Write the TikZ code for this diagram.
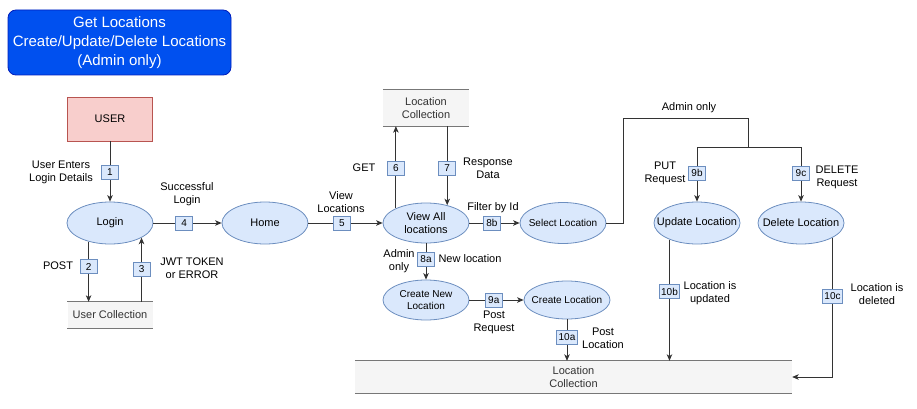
\documentclass[tikz,border=0pt]{standalone}
\usepackage{fontspec}
\setmainfont{Liberation Sans}
\usetikzlibrary{shapes.geometric,arrows.meta,calc}
\definecolor{titlefill}{HTML}{0050EF}
\definecolor{titledraw}{HTML}{001DBC}
\definecolor{userfill}{HTML}{F8CECC}
\definecolor{userdraw}{HTML}{B85450}
\definecolor{procfill}{HTML}{DAE8FC}
\definecolor{procdraw}{HTML}{6C8EBF}
\definecolor{storefill}{HTML}{F5F5F5}
\definecolor{storeline}{HTML}{777777}
\definecolor{storetext}{HTML}{333333}
\definecolor{edgecol}{HTML}{333333}
\begin{document}
\begin{tikzpicture}[x=1pt,y=-1pt,
  every node/.style={font=\fontsize{11}{13}\selectfont},
  titlebox/.style={rectangle, rounded corners=8pt, fill=titlefill, draw=titledraw, line width=0.8pt,
    text=white, align=center, minimum width=223pt, minimum height=65pt, inner sep=0pt,
    font=\fontsize{15}{19}\selectfont},
  userbox/.style={rectangle, fill=userfill, draw=userdraw, line width=0.8pt,
    minimum width=85pt, minimum height=44pt, inner sep=0pt},
  proc/.style={ellipse, fill=procfill, draw=procdraw, line width=0.8pt,
    minimum width=86pt, minimum height=42pt, inner sep=0pt},
  intext/.style={align=center, inner sep=0pt},
  smalltext/.style={intext, font=\fontsize{10}{12}\selectfont},
  store/.style={rectangle, fill=storefill, draw=none, text=storetext, align=center, inner sep=0pt},
  sline/.style={draw=storeline, line width=1.3pt},
  edge/.style={draw=edgecol, line width=0.8pt, -{Stealth[length=6.5pt,width=5.5pt,inset=1.8pt]}},
  plain/.style={draw=edgecol, line width=0.8pt},
  numbox/.style={rectangle, fill=procfill, draw=procdraw, line width=0.8pt,
    minimum width=17pt, minimum height=14pt, inner xsep=2pt, inner ysep=0pt,
    font=\fontsize{10}{12}\selectfont},
  lbl/.style={align=center, inner sep=0pt}
]
\useasboundingbox (0,0) rectangle (917,409);

% title
\node[titlebox] (title) at (119.5,42.5) {Get Locations\\Create/Update/Delete Locations\\(Admin only)};

% processes and entities
\node[userbox] (user) at (110,119) {USER};
\node[proc, label={[intext]center:Login}] (login) at (110,223) {};
\node[proc, label={[intext]center:Home}] (home) at (265,223) {};
\node[proc, minimum height=40pt, label={[intext]center:View All\\locations}] (viewall) at (426,223) {};
\node[proc, minimum height=41pt, label={[smalltext]center:Select Location}] (select) at (563,223) {};
\node[proc, minimum height=40pt, label={[smalltext]center:Create New\\Location}] (createnew) at (426,300) {};
\node[proc, minimum height=38pt, label={[smalltext]center:Create Location}] (createloc) at (567,300) {};
\node[proc, label={[intext]center:Update Location}] (update) at (697,223) {};
\node[proc, label={[intext]center:Delete Location}] (delete) at (801,223) {};

% stores
\node[store, minimum width=85pt, minimum height=26pt] (ucoll) at (110,315) {User Collection};
\node[store, minimum width=86pt, minimum height=36pt] (lctop) at (426,108) {Location\\Collection};
\node[store, minimum width=437pt, minimum height=32pt] (lcbot) at (573.5,377) {Location\\Collection};
\draw[sline] (ucoll.north west) -- (ucoll.north east);
\draw[sline] (ucoll.south west) -- (ucoll.south east);
\draw[sline] (lctop.north west) -- (lctop.north east);
\draw[sline] (lctop.south west) -- (lctop.south east);
\draw[sline] (lcbot.north west) -- (lcbot.north east);
\draw[sline] (lcbot.south west) -- (lcbot.south east);

% routing coordinates
\coordinate (bend) at (623,118);
\coordinate (fork) at (748,147);

% connectors
\draw[edge] (user.south) -- node[numbox, pos=0.51] (b1) {1} (login.north);
\draw[edge] (login) -- node[numbox, pos=0.45] (b4) {4} (home);
\draw[edge] (login.221) -- node[numbox, pos=0.42] (b2) {2} (login.221 |- ucoll.north);
\draw[edge] (login.-25 |- ucoll.north) -- node[numbox, pos=0.51] (b3) {3} (login.-25);
\draw[edge] (home) -- node[numbox, pos=0.45] (b5) {5} (viewall);
\draw[edge] (viewall.154) -- node[numbox, pos=0.49] (b6) {6} (viewall.154 |- lctop.south);
\draw[edge] (viewall.40 |- lctop.south) -- node[numbox, pos=0.53] (b7) {7} (viewall.40);
\draw[edge] (viewall) -- node[numbox, pos=0.45] (b8b) {8b} (select);
\draw[edge] (viewall) -- node[numbox, pos=0.43] (b8a) {8a} (createnew);
\draw[edge] (createnew) -- node[numbox, pos=0.45] (b9a) {9a} (createloc);
\draw[edge] (createloc.south) -- node[numbox, pos=0.43] (b10a) {10a} (createloc.south |- lcbot.north);
\draw[plain] (select.east) -| (bend) -| (fork);
\draw[edge] (fork) -| node[numbox, pos=0.74] (b9b) {9b} (update.north);
\draw[edge] (fork) -| node[numbox, pos=0.74] (b9c) {9c} (delete.north);
\draw[edge] (update.211) -- node[numbox, pos=0.43] (b10b) {10b} (update.211 |- lcbot.north);
\draw[edge] (delete.-25) |- node[numbox, pos=0.21] (b10c) {10c} (lcbot.east);

% labels
\node[lbl] (l1) at (61,172) {User Enters\\Login Details};
\node[lbl] (l4) at (187,194) {Successful\\Login};
\node[lbl] (l2) at (58,266) {POST};
\node[lbl] (l3) at (192,268) {JWT TOKEN\\or ERROR};
\node[lbl] (l5) at (341,202) {View\\Locations};
\node[lbl] (l6) at (364,168) {GET};
\node[lbl] (l7) at (488,168) {Response\\Data};
\node[lbl] (l8b) at (493,208) {Filter by Id};
\node[lbl] (l8a) at (399,261) {Admin\\only};
\node[lbl] (l8c) at (470,259) {New location};
\node[lbl] (l9a) at (494,322) {Post\\Request};
\node[lbl] (l10a) at (603,338) {Post\\Location};
\node[lbl] (ladm) at (689,108) {Admin only};
\node[lbl] (l9b) at (665,173) {PUT\\Request};
\node[lbl] (l9c) at (837,177) {DELETE\\Request};
\node[lbl] (l10b) at (710,293) {Location is\\updated};
\node[lbl] (l10c) at (877,294) {Location is\\deleted};
\end{tikzpicture}
\end{document}
